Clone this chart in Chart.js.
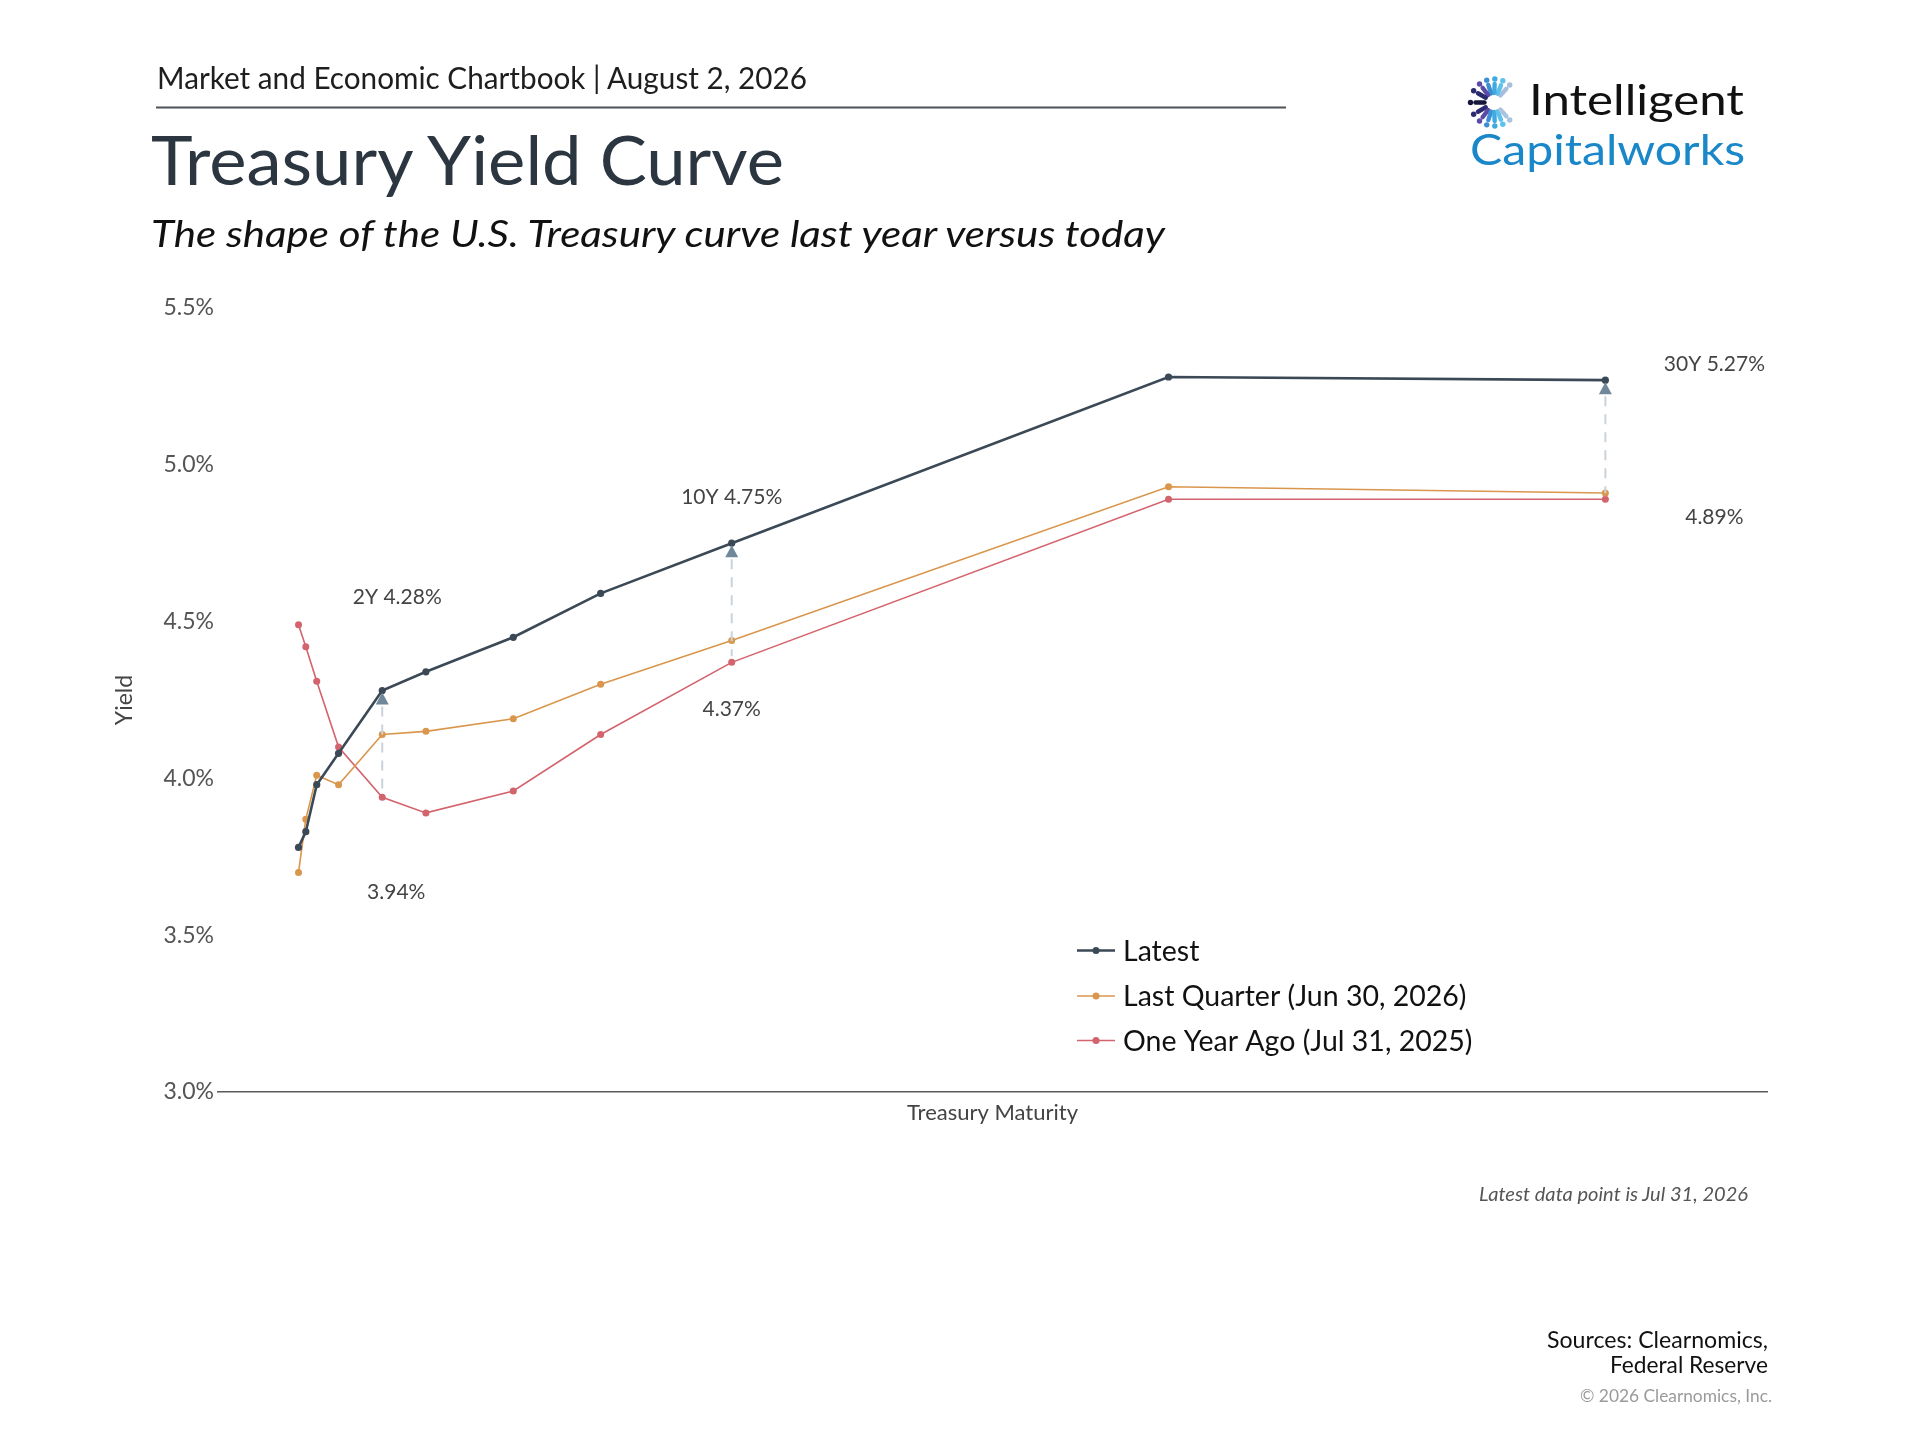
<!DOCTYPE html>
<html>
<head>
<meta charset="utf-8">
<title>Treasury Yield Curve</title>
<script src="https://cdn.jsdelivr.net/npm/chart.js@4.4.1/dist/chart.umd.min.js"></script>
<style>
  html, body { margin: 0; padding: 0; background: #ffffff; }
  #page { position: relative; width: 1920px; height: 1440px; overflow: hidden; font-family: Lato, "Noto Sans", sans-serif; }
  #chart { position: absolute; left: 0; top: 0; }
  #overlay { position: absolute; left: 0; top: 0; pointer-events: none; }
</style>
</head>
<body>
<div id="page">
  <canvas id="chart" width="1920" height="1440"></canvas>
  <svg id="overlay" width="1920" height="1440" xmlns="http://www.w3.org/2000/svg" font-family="Lato, 'Noto Sans', sans-serif">
    <text x="157" y="89" font-size="30" fill="#1e1e1e" textLength="650" lengthAdjust="spacingAndGlyphs">Market and Economic Chartbook | August 2, 2026</text>
    <line x1="156" y1="107.5" x2="1286" y2="107.5" stroke="#4d5358" stroke-width="2"/>
    <text x="151" y="185" font-size="67" fill="#2c3640" textLength="633" lengthAdjust="spacingAndGlyphs">Treasury Yield Curve</text>
    <text x="151" y="247" font-size="37" font-style="italic" fill="#111111" textLength="1014" lengthAdjust="spacingAndGlyphs">The shape of the U.S. Treasury curve last year versus today</text>
    <g id="logoIcon"></g>
    <text x="1529" y="115" font-size="43" fill="#111111" textLength="215" lengthAdjust="spacingAndGlyphs">Intelligent</text>
    <text x="1470" y="165" font-size="42" fill="#1a87c9" textLength="275" lengthAdjust="spacingAndGlyphs">Capitalworks</text>
    <text x="1748" y="1201" font-size="20" font-style="italic" fill="#555555" text-anchor="end" textLength="269" lengthAdjust="spacingAndGlyphs">Latest data point is Jul 31, 2026</text>
    <text x="1768" y="1348" font-size="23" fill="#111111" text-anchor="end" textLength="221" lengthAdjust="spacingAndGlyphs">Sources: Clearnomics,</text>
    <text x="1768" y="1373" font-size="23" fill="#111111" text-anchor="end" textLength="158" lengthAdjust="spacingAndGlyphs">Federal Reserve</text>
    <text x="1772" y="1402" font-size="18" fill="#9a9a9a" text-anchor="end" textLength="192" lengthAdjust="spacingAndGlyphs">© 2026 Clearnomics, Inc.</text>
  </svg>
</div>
<script>
// ---------------- DATA ----------------
const maturities        = ['1M', '3M', '6M', '1Y', '2Y', '3Y', '5Y', '7Y', '10Y', '20Y', '30Y'];
const maturityYears     = [0.083, 0.25, 0.5, 1, 2, 3, 5, 7, 10, 20, 30];
const latestYields      = [3.78, 3.83, 3.98, 4.08, 4.28, 4.34, 4.45, 4.59, 4.75, 5.28, 5.27];
const lastQuarterYields = [3.70, 3.87, 4.01, 3.98, 4.14, 4.15, 4.19, 4.30, 4.44, 4.93, 4.91];
const yearAgoYields     = [4.49, 4.42, 4.31, 4.10, 3.94, 3.89, 3.96, 4.14, 4.37, 4.89, 4.89];
const seriesNames       = ['Latest', 'Last Quarter (Jun 30, 2026)', 'One Year Ago (Jul 31, 2025)'];
const yTickValues       = [3.0, 3.5, 4.0, 4.5, 5.0, 5.5];
const calloutMaturities = ['2Y', '10Y', '30Y'];

// ---------------- STYLE ----------------
const FONT = 'Lato, "Noto Sans", sans-serif';
const colors = { latest: '#3b4956', lastQ: '#d9964c', yearAgo: '#d3636c', marker: '#71889a', dash: '#c9d3db' };

// label offsets (px) for callouts relative to their points
const calloutOffsets = {
  '2Y':  { top: [15, -93], bottom: [14, 95] },
  '10Y': { top: [0, -46],  bottom: [0, 47] },
  '30Y': { top: [109, -16], bottom: [109, 18] }
};

function toPoints(values) {
  return values.map((v, i) => ({ x: maturityYears[i], y: v }));
}

// ---------------- LOGO ICON ----------------
(function drawLogo() {
  const g = document.getElementById('logoIcon');
  const cx = 1494, cy = 102.5;
  const rays = [
    [-48, '#a7bedc'], [-68, '#5cc1ec'], [-88, '#3fa9e0'], [-108, '#3b8fd0'], [-128, '#5b4aa6'],
    [-150, '#2a2a6e'], [180, '#15163a'], [150, '#2d2a72'], [128, '#5b4aa6'], [108, '#3d8fd3'],
    [88, '#3fa9e0'], [68, '#5cc1ec'], [48, '#aac3df']
  ];
  let s = '';
  rays.forEach(([a, c]) => {
    const r = a * Math.PI / 180;
    const x1 = cx + Math.cos(r) * 9.5, y1 = cy + Math.sin(r) * 9.5;
    const x2 = cx + Math.cos(r) * 18.5, y2 = cy + Math.sin(r) * 18.5;
    const x3 = cx + Math.cos(r) * 23.5, y3 = cy + Math.sin(r) * 23.5;
    s += `<line x1="${x1}" y1="${y1}" x2="${x2}" y2="${y2}" stroke="${c}" stroke-width="4.4" stroke-linecap="round"/>`;
    s += `<circle cx="${x3}" cy="${y3}" r="2.7" fill="${c}"/>`;
  });
  g.innerHTML = s;
})();

// ---------------- PLUGINS ----------------
const calloutPlugin = {
  id: 'callouts',
  afterDatasetsDraw(chart) {
    const ctx = chart.ctx;
    const latestMeta = chart.getDatasetMeta(0);
    const yearMeta = chart.getDatasetMeta(2);
    calloutMaturities.forEach(m => {
      const i = maturities.indexOf(m);
      const pTop = latestMeta.data[i];
      const pBot = yearMeta.data[i];
      // dashed connector
      ctx.save();
      ctx.strokeStyle = colors.dash;
      ctx.lineWidth = 2;
      ctx.setLineDash([10, 8]);
      ctx.beginPath();
      ctx.moveTo(pTop.x, pTop.y + 16);
      ctx.lineTo(pBot.x, pBot.y - 6);
      ctx.stroke();
      ctx.restore();
      // triangle marker
      ctx.save();
      ctx.fillStyle = colors.marker;
      ctx.beginPath();
      ctx.moveTo(pTop.x, pTop.y + 2);
      ctx.lineTo(pTop.x + 6.5, pTop.y + 14);
      ctx.lineTo(pTop.x - 6.5, pTop.y + 14);
      ctx.closePath();
      ctx.fill();
      ctx.restore();
      // labels
      const off = calloutOffsets[m];
      ctx.save();
      ctx.font = '21px ' + FONT;
      ctx.fillStyle = '#444444';
      ctx.textAlign = 'center';
      ctx.textBaseline = 'middle';
      ctx.fillText(m + ' ' + latestYields[i].toFixed(2) + '%', pTop.x + off.top[0], pTop.y + off.top[1]);
      ctx.fillText(yearAgoYields[i].toFixed(2) + '%', pBot.x + off.bottom[0], pBot.y + off.bottom[1]);
      ctx.restore();
    });
  }
};

const legendPlugin = {
  id: 'customLegend',
  afterDraw(chart) {
    const ctx = chart.ctx;
    const x0 = 1077, x1 = 1115, tx = 1123;
    const rows = [950.5, 996, 1040.5];
    chart.data.datasets.forEach((ds, k) => {
      const y = rows[k];
      ctx.save();
      ctx.strokeStyle = ds.borderColor;
      ctx.lineWidth = k === 0 ? 2.6 : 1.6;
      ctx.beginPath();
      ctx.moveTo(x0, y);
      ctx.lineTo(x1, y);
      ctx.stroke();
      ctx.fillStyle = ds.borderColor;
      ctx.beginPath();
      ctx.arc((x0 + x1) / 2, y, 3.5, 0, Math.PI * 2);
      ctx.fill();
      ctx.font = '28.5px ' + FONT;
      ctx.fillStyle = '#111111';
      ctx.textAlign = 'left';
      ctx.textBaseline = 'middle';
      ctx.fillText(ds.label, tx, y + 1);
      ctx.restore();
    });
  }
};

// ---------------- CHART ----------------
const datasets = [
  { label: seriesNames[0], data: toPoints(latestYields), borderColor: colors.latest, backgroundColor: colors.latest,
    borderWidth: 2.6, pointRadius: 3.6, pointBorderWidth: 0, pointBackgroundColor: colors.latest },
  { label: seriesNames[1], data: toPoints(lastQuarterYields), borderColor: colors.lastQ, backgroundColor: colors.lastQ,
    borderWidth: 1.6, pointRadius: 3.5, pointBorderWidth: 0, pointBackgroundColor: colors.lastQ },
  { label: seriesNames[2], data: toPoints(yearAgoYields), borderColor: colors.yearAgo, backgroundColor: colors.yearAgo,
    borderWidth: 1.6, pointRadius: 3.5, pointBorderWidth: 0, pointBackgroundColor: colors.yearAgo }
];

new Chart(document.getElementById('chart'), {
  type: 'line',
  data: { datasets },
  options: {
    responsive: false,
    animation: false,
    devicePixelRatio: 1,
    layout: { padding: { left: 0, top: 308, right: 153, bottom: 308 } },
    plugins: { legend: { display: false }, tooltip: { enabled: false }, title: { display: false } },
    elements: { line: { tension: 0 } },
    scales: {
      x: {
        type: 'linear',
        min: -1.76,
        max: 33.7,
        grid: { display: false, drawTicks: false },
        border: { display: true, color: '#5a5a5a', width: 1.6 },
        ticks: { display: false },
        title: { display: true, text: 'Treasury Maturity', color: '#444444', font: { family: FONT, size: 22 }, padding: { top: 0, bottom: 6 } },
        afterFit(scale) { scale.height = 40; }
      },
      y: {
        min: 3.0,
        max: 5.5,
        grid: { display: false, drawTicks: false },
        border: { display: false },
        afterBuildTicks(scale) { scale.ticks = yTickValues.map(v => ({ value: v })); },
        ticks: {
          padding: 4,
          color: '#555555',
          font: { family: FONT, size: 23 },
          callback: v => Number(v).toFixed(1) + '%'
        },
        title: { display: true, text: 'Yield', color: '#444444', font: { family: FONT, size: 23 }, padding: { top: 111, bottom: 0 } },
        afterFit(scale) { scale.width = 218; }
      }
    }
  },
  plugins: [calloutPlugin, legendPlugin]
});
</script>
</body>
</html>
